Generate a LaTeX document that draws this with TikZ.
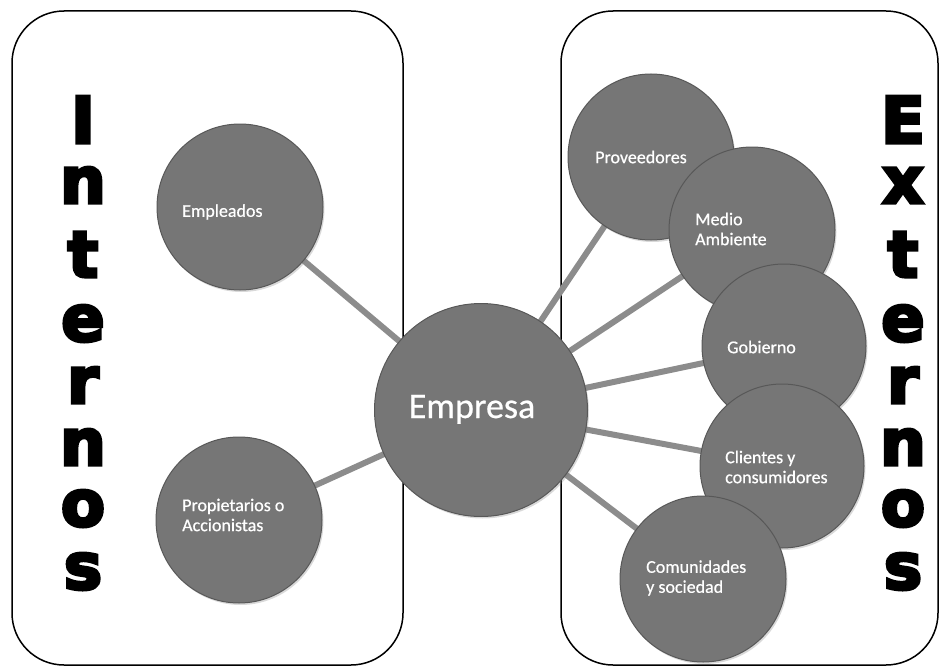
\documentclass[tikz,border=0pt]{standalone}
\usepackage{fontspec}
\setmainfont{Carlito}
\newfontface\heavyfont{DejaVu Sans Bold}[FakeBold=5]
\newfontface\lblfont{Carlito}[FakeBold=0.6]
\usetikzlibrary{shadows}
\definecolor{bubblegray}{RGB}{118,118,118}
\definecolor{rimgray}{RGB}{88,88,88}
\definecolor{linkgray}{RGB}{140,140,140}
\pgfdeclarelayer{background}
\pgfsetlayers{background,main}
\begin{document}
\begin{tikzpicture}[x=1pt,y=-1pt,
  frame/.style={draw=black, line width=1.5pt, rounded corners=52pt},
  conn/.style={draw=linkgray, line width=6pt},
  bubble/.style={circle, draw=rimgray, line width=1pt, fill=bubblegray,
    minimum size=166pt, inner sep=0pt,
    drop shadow={opacity=0.3, shadow xshift=1.5pt, shadow yshift=-2pt}},
  bigbubble/.style={bubble, minimum size=213pt},
  lbl/.style={text=white, font=\lblfont\fontsize{18}{20}\selectfont, align=left, anchor=west, inner sep=0pt},
  bigletter/.style={font=\heavyfont\fontsize{64}{64}\selectfont, anchor=base, inner sep=0pt}]
\useasboundingbox (0,0) rectangle (940,669);

% frames
\begin{pgfonlayer}{background}
\draw[frame] (12,11) rectangle (403,665);
\draw[frame] (561,11) rectangle (938,665);
\end{pgfonlayer}

% circles
\node[bigbubble] (empresa) at (481,410) {};
\node[bubble] (empleados) at (240,207) {};
\node[bubble] (propietarios) at (239,520) {};
\node[bubble] (proveedores) at (651,157) {};
\node[bubble] (medio) at (752,230) {};
\node[bubble, minimum size=164pt] (gobierno) at (784,346) {};
\node[bubble, minimum size=164pt] (clientes) at (782,466) {};
\node[bubble] (comunidades) at (703,579) {};

% connectors
\begin{pgfonlayer}{background}
\foreach \t in {empleados,propietarios,proveedores,medio,gobierno,clientes,comunidades}
  \draw[conn] (empresa.center) -- (\t.center);
\end{pgfonlayer}

% labels
\node[text=white, font=\lblfont\fontsize{36}{40}\selectfont, anchor=base, inner sep=0pt] (empresaT) at (472,418) {Empresa};
\node[lbl] (empleadosT) at (182,212) {Empleados};
\node[lbl] (propietariosT) at (182,515) {Propietarios o\\Accionistas};
\node[lbl] (proveedoresT) at (595,157) {Proveedores};
\node[lbl] (medioT) at (695,229) {Medio\\Ambiente};
\node[lbl] (gobiernoT) at (727,347) {Gobierno};
\node[lbl] (clientesT) at (725,467) {Clientes y\\consumidores};
\node[lbl] (comunidadesT) at (646,578) {Comunidades\\y sociedad};

% vertical words
\node[bigletter] (in1) at (83,143) {I};
\node[bigletter] (in2) at (83,203) {n};
\node[bigletter] (in3) at (83,277) {t};
\node[bigletter] (in4) at (83,341) {e};
\node[bigletter] (in5) at (83,403) {r};
\node[bigletter] (in6) at (83,465) {n};
\node[bigletter] (in7) at (83,526) {o};
\node[bigletter] (in8) at (83,589) {s};

\node[bigletter] (ex1) at (903,143) {E};
\node[bigletter] (ex2) at (903,203) {x};
\node[bigletter] (ex3) at (903,277) {t};
\node[bigletter] (ex4) at (903,341) {e};
\node[bigletter] (ex5) at (903,403) {r};
\node[bigletter] (ex6) at (903,465) {n};
\node[bigletter] (ex7) at (903,526) {o};
\node[bigletter] (ex8) at (903,589) {s};
\end{tikzpicture}
\end{document}
